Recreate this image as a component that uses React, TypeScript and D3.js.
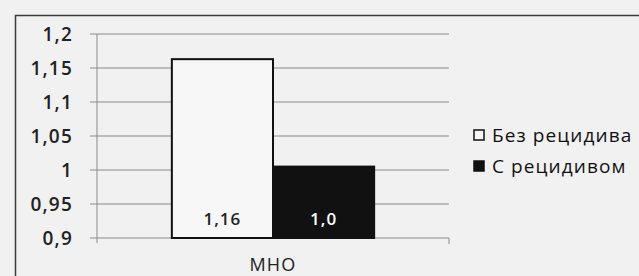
import React from 'react';
import * as d3 from 'd3';

const categories = ['МНО'];
const seriesNames = ['Без рецидива', 'С рецидивом'];
const seriesValues = [1.163, 1.005];
const valueLabels = ['1,16', '1,0'];
const yTicks = [0.9, 0.95, 1, 1.05, 1.1, 1.15, 1.2];
const yTickLabels = ['0,9', '0,95', '1', '1,05', '1,1', '1,15', '1,2'];

const W = 639;
const H = 276;
const plot = { left: 97, right: 449, top: 34, bottom: 238 };
const font = "'Open Sans', 'Noto Sans', sans-serif";

export default function App() {
  const y = d3.scaleLinear().domain([0.9, 1.2]).range([plot.bottom, plot.top]);
  const x0 = d3.scaleBand().domain(categories).range([plot.left, plot.right]).paddingInner(0).paddingOuter(0.37);
  const x1 = d3.scaleBand().domain(seriesNames).range([0, x0.bandwidth()]);
  const fills = ['#f7f7f7', '#111'];

  return (
    <svg width={W} height={H} style={{ position: 'absolute', left: 0, top: 0, background: '#f1f1f1' }}>
      {/* outer frame */}
      <path d={`M15.5,${H} V15.5 H${W}`} fill="none" stroke="#3a3a3a" strokeWidth={1.5} />
      {/* grid */}
      {yTicks.map((t, i) => (
        <g key={t}>
          <line x1={plot.left - 7} x2={plot.right} y1={y(t)} y2={y(t)} stroke="#8a8a8a" strokeWidth={1} />
          <text x={73} y={y(t) + 6.5} textAnchor="end" fontFamily={font} fontSize={19} fontWeight={600}
            letterSpacing={1.2} fill="#222">
            {yTickLabels[i]}
          </text>
        </g>
      ))}
      <line x1={plot.left} x2={plot.left} y1={plot.top} y2={plot.bottom + 5} stroke="#8a8a8a" />
      <line x1={plot.right} x2={plot.right} y1={plot.bottom} y2={plot.bottom + 6} stroke="#8a8a8a" />
      {categories.map(c => (
        <g key={c}>
          {seriesNames.map((s, i) => {
            const bx = (x0(c) ?? 0) + (x1(s) ?? 0);
            const by = y(seriesValues[i]);
            return (
              <g key={s}>
                <rect x={bx} y={by} width={x1.bandwidth()} height={plot.bottom - by}
                  fill={fills[i]} stroke="#111" strokeWidth={2} />
                <text x={bx + x1.bandwidth() / 2} y={225} textAnchor="middle" fontFamily={font}
                  fontSize={17} fontWeight={600} letterSpacing={1}
                  fill={i === 0 ? '#222' : '#fff'}>{valueLabels[i]}</text>
              </g>
            );
          })}
          <text x={(x0(c) ?? 0) + x0.bandwidth() / 2} y={271} textAnchor="middle" fontFamily={font}
            fontSize={18} fontWeight={500} letterSpacing={1.2} fill="#222">{c}</text>
        </g>
      ))}
      {/* legend */}
      {seriesNames.map((s, i) => (
        <g key={s} transform={`translate(474, ${135 + i * 31})`}>
          <rect x={0} y={-5} width={10} height={10} fill={fills[i]} stroke="#111" strokeWidth={1.5} />
          <text x={18} y={6.5} fontFamily={font} fontSize={19} fontWeight={500} letterSpacing={1.1}
            fill="#111">{s}</text>
        </g>
      ))}
    </svg>
  );
}
